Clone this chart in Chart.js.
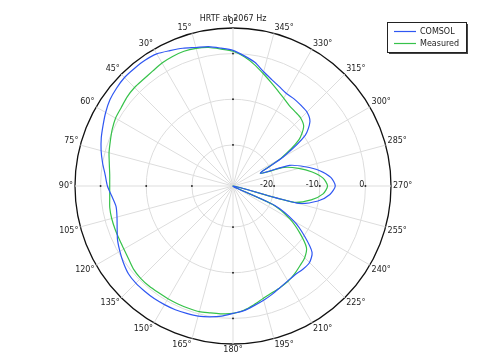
<!DOCTYPE html>
<html>
<head>
<meta charset="utf-8">
<script src="https://cdn.jsdelivr.net/npm/chart.js@4.4.0/dist/chart.umd.min.js"></script>
<style>
  html, body { margin: 0; padding: 0; background: #fff; }
  #wrap { width: 486px; height: 354px; }
</style>
</head>
<body>
<div id="wrap"><canvas id="polar" width="486" height="354"></canvas></div>
<script>
// angles in degrees, listed clockwise from the top (the plot's angle grows counter-clockwise)
const angles = [0, 355, 350, 345, 340, 335, 330, 325, 320, 315, 310, 305, 300, 295, 290, 285, 280, 275,
  270, 265, 260, 255, 250, 245, 240, 235, 230, 225, 220, 215, 210, 205, 200, 195, 190, 185,
  180, 175, 170, 165, 160, 155, 150, 145, 140, 135, 130, 125, 120, 115, 110, 105, 100, 95,
  90, 85, 80, 75, 70, 65, 60, 55, 50, 45, 40, 35, 30, 25, 20, 15, 10, 5];

// level in dB, same order as angles
const comsol = [0.7, -0.4, -1.5, -3.1, -4.2, -5.0, -5.6, -5.7, -5.9, -6.1, -7.0, -9.7, -16.3, -22.4, -15.8, -12.7, -9.7, -7.5,
  -6.6, -7.7, -10.1, -14.5, -29, -18.9, -13.6, -9.9, -6.4, -5.3, -5.2, -5.3, -5.0, -4.5, -3.8, -3.1, -2.4, -1.6,
  -1.1, -0.4, 0.1, 0.5, 0.7, 0.9, 1.0, 1.1, 1.1, 1.1, 0.9, 0.3, -0.4, -1.1, -2.0, -2.7, -3.0, -2.4,
  -1.5, -0.9, 0.0, 0.9, 1.7, 2.4, 3.2, 3.9, 4.3, 4.6, 4.6, 4.6, 4.4, 3.7, 3.1, 2.4, 2.0, 1.3];

const measured = [0.5, -0.6, -2.0, -3.5, -4.8, -5.9, -6.8, -7.5, -7.8, -8.0, -8.8, -11.4, -16.9, -22.4, -17.1, -14.1, -11.4, -9.2,
  -8.3, -9.2, -11.6, -15.4, -29, -19.5, -14.7, -11.2, -8.0, -6.8, -6.2, -5.5, -4.9, -4.5, -4.1, -3.5, -2.6, -1.7,
  -1.1, -0.9, -0.8, -0.5, -0.5, -0.5, -0.5, -0.5, -0.4, -0.4, -0.6, -1.1, -1.4, -1.5, -1.5, -1.5, -1.6, -1.9,
  -2.0, -1.9, -1.5, -0.9, -0.4, 0.2, 0.7, 0.9, 1.3, 1.5, 1.5, 1.7, 2.1, 2.3, 2.4, 2.2, 1.8, 1.1];

const radialTicks = [-20, -10, 0];
const rMin = -29;
const rMax = 5.6;

const FONT = '"DejaVu Sans", sans-serif';

// title, radial tick labels, small tick dots and the boxed legend
const overlay = {
  id: 'overlay',
  beforeDatasetsDraw(chart) {
    const r = chart.scales.r;
    const ctx = chart.ctx;
    ctx.save();
    ctx.fillStyle = '#111';
    radialTicks.forEach(v => {
      const d = r.getDistanceFromCenterForValue(v);
      [[0, -1], [-1, 0], [0, 1], [1, 0]].forEach(([dx, dy]) => {
        ctx.fillRect(r.xCenter + dx * d - 0.8, r.yCenter + dy * d - 0.8, 1.6, 1.6);
      });
    });
    ctx.restore();
  },
  afterDraw(chart) {
    const r = chart.scales.r;
    const ctx = chart.ctx;
    ctx.save();
    ctx.font = '8px ' + FONT;
    ctx.fillStyle = '#222';

    ctx.textAlign = 'center';
    ctx.textBaseline = 'alphabetic';
    ctx.fillText('HRTF at 2067 Hz', r.xCenter, 21);

    ctx.textAlign = 'right';
    radialTicks.forEach(v => {
      const d = r.getDistanceFromCenterForValue(v);
      ctx.fillText(String(v), r.xCenter + d - 1, r.yCenter + 0.5);
    });

    // legend box
    const bx = 387, by = 22, bw = 79, bh = 30;
    ctx.fillStyle = '#444';
    ctx.fillRect(bx + 2, by + 2, bw, bh);
    ctx.fillStyle = '#fff';
    ctx.fillRect(bx, by, bw, bh);
    ctx.strokeStyle = '#222';
    ctx.lineWidth = 1;
    ctx.strokeRect(bx + 0.5, by + 0.5, bw, bh);
    ctx.textAlign = 'left';
    ctx.textBaseline = 'middle';
    chart.data.datasets.forEach((ds, i) => {
      const y = by + 9.5 + i * 12;
      ctx.strokeStyle = ds.borderColor;
      ctx.lineWidth = 1.2;
      ctx.beginPath();
      ctx.moveTo(bx + 7, y);
      ctx.lineTo(bx + 29, y);
      ctx.stroke();
      ctx.fillStyle = '#222';
      ctx.fillText(ds.label, bx + 33, y);
    });
    ctx.restore();
  }
};

new Chart(document.getElementById('polar'), {
  type: 'radar',
  data: {
    labels: angles.map(a => (a % 15 === 0 ? a + '°' : '')),
    datasets: [{
      label: 'COMSOL',
      data: comsol,
      borderColor: '#2f57f2',
      borderWidth: 1.2,
      fill: false,
      pointRadius: 0,
      tension: 0.25
    }, {
      label: 'Measured',
      data: measured,
      borderColor: '#36c24a',
      borderWidth: 1.2,
      fill: false,
      pointRadius: 0,
      tension: 0.25
    }]
  },
  options: {
    responsive: false,
    animation: false,
    layout: { padding: { top: 18, bottom: 0, left: 33, right: 53 } },
    plugins: {
      legend: { display: false },
      tooltip: { enabled: false }
    },
    scales: {
      r: {
        min: rMin,
        max: rMax,
        startAngle: 0,
        afterBuildTicks: scale => {
          scale.ticks = radialTicks.concat([rMax]).map(v => ({ value: v }));
        },
        ticks: { display: false },
        grid: {
          circular: true,
          color: c => (c.tick && c.tick.value === rMax ? '#111' : '#dddddd'),
          lineWidth: c => (c.tick && c.tick.value === rMax ? 1.3 : 1)
        },
        angleLines: {
          color: '#dddddd',
          lineWidth: c => (c.label ? 1 : 0)
        },
        pointLabels: {
          padding: 2,
          color: '#222',
          font: { family: FONT, size: 8, lineHeight: 1 }
        }
      }
    }
  },
  plugins: [overlay]
});
</script>
</body>
</html>
